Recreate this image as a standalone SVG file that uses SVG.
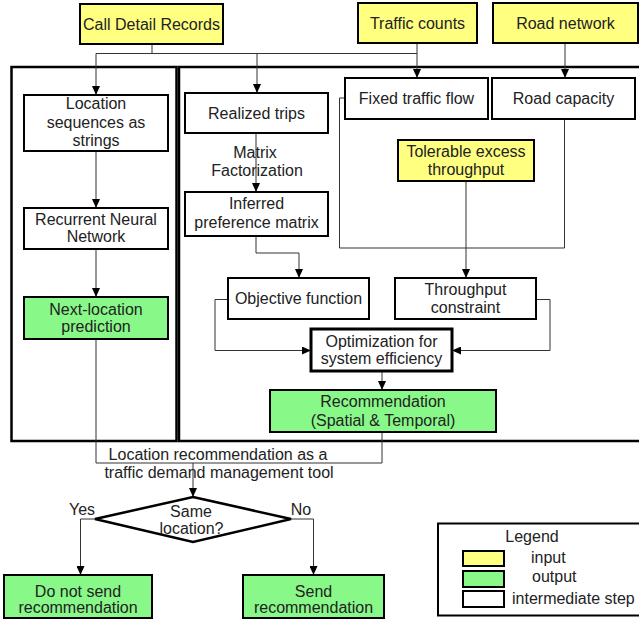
<svg xmlns="http://www.w3.org/2000/svg" width="639" height="619" viewBox="0 0 639 619">
<style>
text{font-family:"Liberation Sans",Arial,sans-serif;font-size:16px;fill:#222;text-anchor:middle}
.l{text-anchor:start}
.box{stroke:#000;stroke-width:2;fill:#fff}
.in{fill:#ffff80}
.out{fill:#88f888}
.panel{fill:none;stroke:#000;stroke-width:2.5}
.c{fill:none;stroke:#333;stroke-width:1}
.a{marker-end:url(#ah)}
</style>
<defs>
<marker id="ah" markerUnits="userSpaceOnUse" markerWidth="9" markerHeight="8" refX="9" refY="4" orient="auto">
<path d="M0,0 L9,4 L0,8 z" fill="#000"/>
</marker>
</defs>
<rect width="639" height="619" fill="#fff"/>
<g id="panels">
<rect class="panel" x="11.5" y="67" width="165" height="374"/>
<rect class="panel" x="179" y="67" width="470" height="374"/>
</g>
<g id="connectors">
<path class="c" d="M152,44 V53.5 M96,53.5 H417"/>
<path class="c a" d="M96,53.5 V95"/>
<path class="c a" d="M257,53.5 V93"/>
<path class="c a" d="M417,43 V78"/>
<path class="c a" d="M565,43 V78"/>
<path class="c a" d="M96,151 V208"/>
<path class="c a" d="M96,249 V297"/>
<path class="c" d="M96,339 V463 H382 M382,432 V463"/>
<path class="c a" d="M193,463 V497"/>
<path class="c a" d="M256,133 V192"/>
<path class="c a" d="M256,236 V253 H299 V278"/>
<path class="c" d="M345,98 H339.5 V248 H564.5 V119"/>
<path class="c a" d="M466,181 V278"/>
<path class="c a" d="M228,299.5 H215 V350.5 H311"/>
<path class="c a" d="M536,299.5 H550 V350.5 H452"/>
<path class="c a" d="M382,371 V390"/>
<path class="c a" d="M95,519 H80.5 V575"/>
<path class="c a" d="M291,519 H313.5 V575"/>
</g>
<g id="cdr"><rect class="box in" x="80" y="4" width="143" height="40"/><text x="151.5" y="30">Call Detail Records</text></g>
<g id="traffic-counts"><rect class="box in" x="358" y="3" width="119" height="40"/><text x="417.5" y="29">Traffic counts</text></g>
<g id="road-network"><rect class="box in" x="493" y="3" width="145" height="40"/><text x="565.5" y="29">Road network</text></g>
<g id="location-sequences"><rect class="box" x="24" y="95" width="144" height="56"/><text x="96" y="109">Location</text><text x="96" y="128">sequences as</text><text x="96" y="146">strings</text></g>
<g id="rnn"><rect class="box" x="24" y="208" width="144" height="41"/><text x="96" y="225">Recurrent Neural</text><text x="96" y="242">Network</text></g>
<g id="next-location"><rect class="box out" x="24" y="297" width="144" height="42"/><text x="96" y="315">Next-location</text><text x="96" y="332">prediction</text></g>
<g id="realized-trips"><rect class="box" x="185" y="93" width="143" height="40"/><text x="256.5" y="119">Realized trips</text></g>
<g id="mf-label"><text x="255" y="158">Matrix</text><text x="257" y="176">Factorization</text></g>
<g id="inferred"><rect class="box" x="185" y="192" width="143" height="44"/><text x="256.5" y="209">Inferred</text><text x="256.5" y="228">preference matrix</text></g>
<g id="fixed-flow"><rect class="box" x="345" y="78" width="143" height="41"/><text x="416.5" y="104">Fixed traffic flow</text></g>
<g id="road-capacity"><rect class="box" x="492" y="78" width="143" height="41"/><text x="563.5" y="104">Road capacity</text></g>
<g id="tolerable"><rect class="box in" x="398" y="140" width="136" height="41"/><text x="466" y="157">Tolerable excess</text><text x="466" y="175">throughput</text></g>
<g id="objective"><rect class="box" x="228" y="278" width="141" height="41"/><text x="298.5" y="304">Objective function</text></g>
<g id="throughput"><rect class="box" x="395" y="278" width="141" height="41"/><text x="465.5" y="295">Throughput</text><text x="465.5" y="313">constraint</text></g>
<g id="optimization"><rect class="box" style="stroke-width:3" x="311" y="329" width="141" height="42"/><text x="381.5" y="347">Optimization for</text><text x="381.5" y="364">system efficiency</text></g>
<g id="recommendation"><rect class="box out" x="270" y="390" width="226" height="42"/><text x="383" y="407">Recommendation</text><text x="383" y="426">(Spatial &amp; Temporal)</text></g>
<g id="tdm-label"><text x="218" y="460">Location recommendation as a</text><text x="219" y="478">traffic demand management tool</text></g>
<g id="decision"><path d="M193,497 L291,519 L193,542 L95,519 Z" fill="#fff" stroke="#000" stroke-width="2.5"/><text x="191" y="517">Same</text><text x="191.5" y="534">location?</text></g>
<g id="yes-no"><text x="82" y="515">Yes</text><text x="301" y="515">No</text></g>
<g id="do-not-send"><rect class="box out" x="4" y="575" width="148" height="43"/><text x="78" y="597">Do not send</text><text x="78" y="613">recommendation</text></g>
<g id="send"><rect class="box out" x="243" y="575" width="141" height="43"/><text x="313.5" y="597">Send</text><text x="313.5" y="613">recommendation</text></g>
<g id="legend">
<rect x="438" y="523.5" width="220" height="92" fill="#fff" stroke="#000" stroke-width="2"/>
<text x="532" y="542">Legend</text>
<rect class="box in" x="463" y="551" width="41" height="15"/>
<rect class="box out" x="463" y="571" width="41" height="16"/>
<rect class="box" x="463" y="591" width="41" height="16"/>
<text class="l" x="531" y="563">input</text>
<text class="l" x="532" y="582">output</text>
<text class="l" x="512" y="604">intermediate step</text>
</g>
</svg>
